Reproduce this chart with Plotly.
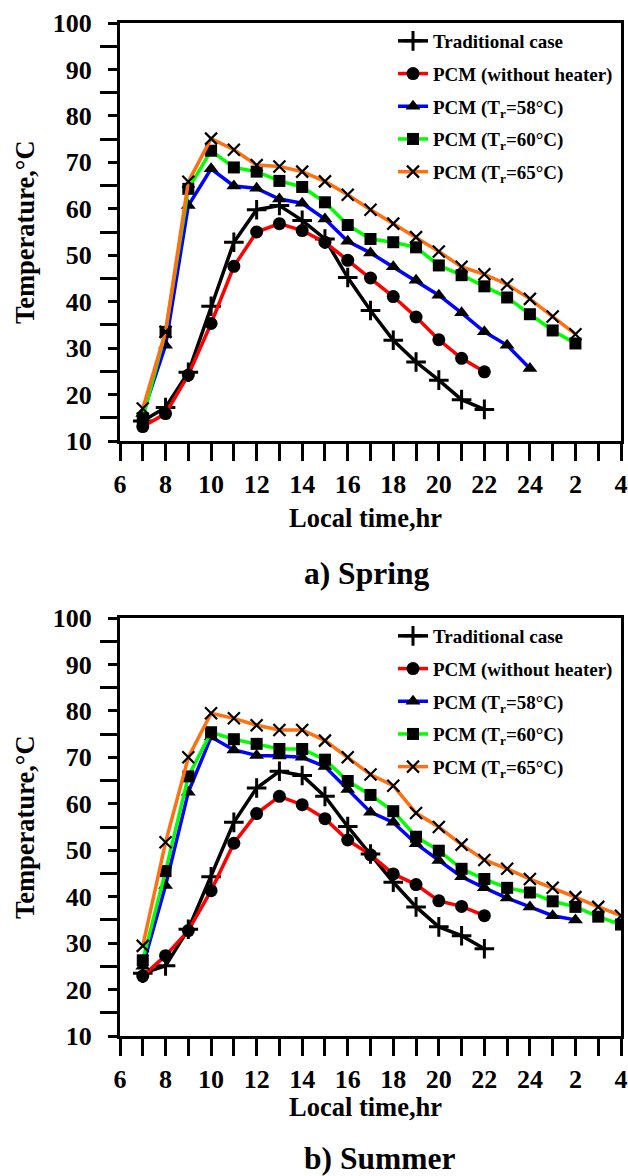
import plotly.graph_objects as go

# ---------------- data ----------------
x_tick_vals = [6, 8, 10, 12, 14, 16, 18, 20, 22, 24, 26, 28]
x_tick_text = ["6", "8", "10", "12", "14", "16", "18", "20", "22", "24", "2", "4"]

series_names = ["Traditional case", "PCM (without heater)", "PCM (T<sub>r</sub>=58°C)",
                "PCM (T<sub>r</sub>=60°C)", "PCM (T<sub>r</sub>=65°C)"]

# Spring
spring_trad_hr = list(range(7, 23))
spring_trad = [14.3, 17.2, 24.8, 39.0, 52.8, 59.8, 60.7, 57.5, 53.5, 45.2, 38.1, 31.7, 27.0, 23.1, 18.9, 16.8]
spring_pcm_hr = list(range(7, 23))
spring_pcm = [13.1, 15.9, 24.2, 35.3, 47.6, 55.0, 56.8, 55.3, 52.8, 48.9, 45.1, 41.1, 36.7, 31.8, 27.8, 24.9]
spring_58_hr = list(range(7, 25))
spring_58 = [15.9, 30.6, 60.7, 68.6, 64.9, 64.4, 62.1, 61.2, 57.8, 53.0, 50.5, 47.5, 44.6, 41.4, 37.6, 33.5, 30.6, 25.6]
spring_60_hr = list(range(7, 27))
spring_60 = [14.9, 33.5, 64.3, 72.5, 68.9, 68.0, 66.0, 64.7, 61.4, 56.5, 53.5, 52.8, 51.7, 47.8, 45.7, 43.3, 40.9, 37.3, 33.8, 31.0]
spring_65_hr = list(range(7, 27))
spring_65 = [17.0, 33.5, 65.8, 75.1, 72.7, 69.4, 69.1, 68.0, 65.9, 63.0, 59.8, 56.8, 53.9, 50.8, 47.5, 45.9, 43.7, 40.6, 36.8, 33.0]

# Summer
summer_trad_hr = list(range(7, 23))
summer_trad = [23.5, 25.1, 33.0, 44.3, 56.0, 63.4, 67.0, 66.1, 61.6, 55.1, 49.2, 43.1, 37.8, 33.5, 31.6, 28.8]
summer_pcm_hr = list(range(7, 23))
summer_pcm = [22.9, 27.3, 32.7, 41.3, 51.5, 57.9, 61.6, 59.8, 56.8, 52.2, 49.0, 44.9, 42.6, 39.1, 37.9, 35.9]
summer_58_hr = list(range(7, 27))
summer_58 = [25.0, 42.4, 62.5, 74.4, 71.6, 70.4, 70.3, 70.0, 68.0, 63.1, 58.2, 56.0, 51.4, 47.8, 44.3, 41.9, 39.7, 37.8, 35.9, 35.0]
summer_60_hr = list(range(7, 29))
summer_60 = [26.3, 45.5, 65.9, 75.4, 73.9, 72.9, 71.8, 71.8, 69.5, 64.9, 61.9, 58.4, 52.9, 49.9, 46.0, 43.8, 41.9, 40.9, 39.0, 37.8, 35.7, 34.0]
summer_65_hr = list(range(7, 29))
summer_65 = [29.4, 51.7, 70.0, 79.5, 78.4, 76.9, 75.9, 75.9, 73.6, 70.0, 66.3, 63.9, 58.0, 55.0, 51.2, 47.9, 46.0, 43.8, 41.9, 39.9, 37.8, 35.9]

# ---------------- styles ----------------
line_colors = ["#000000", "#FF0000", "#0000FF", "#00FF00", "#FF7010"]
symbols = ["cross-thin", "circle", "triangle-up", "square", "x-thin"]
msizes = [14, 13, 13, 12, 12]
mlw = [3, 0, 0, 0, 2.2]

FONT = "Liberation Serif, Times New Roman, serif"

fig = go.Figure()

panels = [
    ("x", "y", "legend", [(spring_trad_hr, spring_trad), (spring_pcm_hr, spring_pcm),
                          (spring_58_hr, spring_58), (spring_60_hr, spring_60), (spring_65_hr, spring_65)]),
    ("x2", "y2", "legend2", [(summer_trad_hr, summer_trad), (summer_pcm_hr, summer_pcm),
                             (summer_58_hr, summer_58), (summer_60_hr, summer_60), (summer_65_hr, summer_65)]),
]

for xa, ya, lg, data in panels:
    for i, (hx, hy) in enumerate(data):
        fig.add_trace(go.Scatter(
            x=hx, y=hy, mode="lines+markers", name=series_names[i],
            xaxis=xa, yaxis=ya, legend=lg, legendgroup=lg + str(i),
            line=dict(color=line_colors[i], width=3.5),
            marker=dict(symbol=symbols[i], size=msizes[i], color="black",
                        line=dict(color="black", width=mlw[i])),
        ))

W, H = 628, 1176
ml, mr, mt, mb = 120, 7, 23, 140
ph = H - mt - mb
pw = W - ml - mr

def py(Y):
    return (H - mb - Y) / ph

def px(X):
    return (X - ml) / pw

axis_common = dict(
    showline=True, linecolor="black", linewidth=3, mirror=True, automargin=False,
    showgrid=False, zeroline=False, ticks="outside", tickcolor="black",
    tickwidth=3, tickfont=dict(family=FONT, size=26, color="black", weight="bold"),
)

xaxis_cfg = dict(axis_common, range=[6, 28], tickvals=x_tick_vals, ticktext=x_tick_text,
                 ticklen=8, minor=dict(dtick=1, tick0=7, ticks="outside", ticklen=17,
                                       tickwidth=3, tickcolor="black"),
                 ticklabelstandoff=10)
yaxis_cfg = dict(axis_common, range=[10, 100], dtick=10, tick0=10, ticklen=9,
                 minor=dict(dtick=10, tick0=15, ticks="outside", ticklen=17,
                            tickwidth=3, tickcolor="black"),
                 ticklabelstandoff=11)

legend_common = dict(xanchor="left", yanchor="top", bgcolor="rgba(0,0,0,0)",
                     borderwidth=0, tracegroupgap=5,
                     font=dict(family=FONT, size=19, color="black", weight="bold"))

fig.update_layout(
    width=W, height=H, margin=dict(l=ml, r=mr, t=mt, b=mb),
    paper_bgcolor="white", plot_bgcolor="white",
    font=dict(family=FONT, color="black", weight="bold"),
    xaxis=dict(xaxis_cfg, domain=[0, 1], anchor="y"),
    yaxis=dict(yaxis_cfg, domain=[py(441), 1], anchor="x"),
    xaxis2=dict(xaxis_cfg, domain=[0, 1], anchor="y2"),
    yaxis2=dict(yaxis_cfg, domain=[0, py(618)], anchor="x2"),
    legend=dict(legend_common, x=px(393), y=py(22)),
    legend2=dict(legend_common, x=px(393), y=py(617)),
)

ann_font = dict(family=FONT, size=26.5, color="black", weight="bold")
sub_font = dict(family=FONT, size=31.5, color="black", weight="bold")
annotations = [
    dict(text="Local time,hr", x=px(365), y=py(518), font=ann_font, xanchor="center"),
    dict(text="Local time,hr", x=px(365), y=py(1107), font=ann_font, xanchor="center"),
    dict(text="a) Spring", x=px(302), y=py(573), font=sub_font, xanchor="left"),
    dict(text="b) Summer", x=px(302), y=py(1158), font=sub_font, xanchor="left"),
    dict(text="Temperature,°C", x=px(25), y=py(232), textangle=-90, font=ann_font, xanchor="center"),
    dict(text="Temperature,°C", x=px(25), y=py(827), textangle=-90, font=ann_font, xanchor="center"),
]
for a in annotations:
    a.update(xref="paper", yref="paper", showarrow=False, yanchor="middle")
fig.update_layout(annotations=annotations)

fig.write_html(
    "out.html",
    config={"displayModeBar": False},
    post_script="document.body.style.margin='0';document.body.style.padding='0';"
                "document.body.style.overflow='hidden';",
)
